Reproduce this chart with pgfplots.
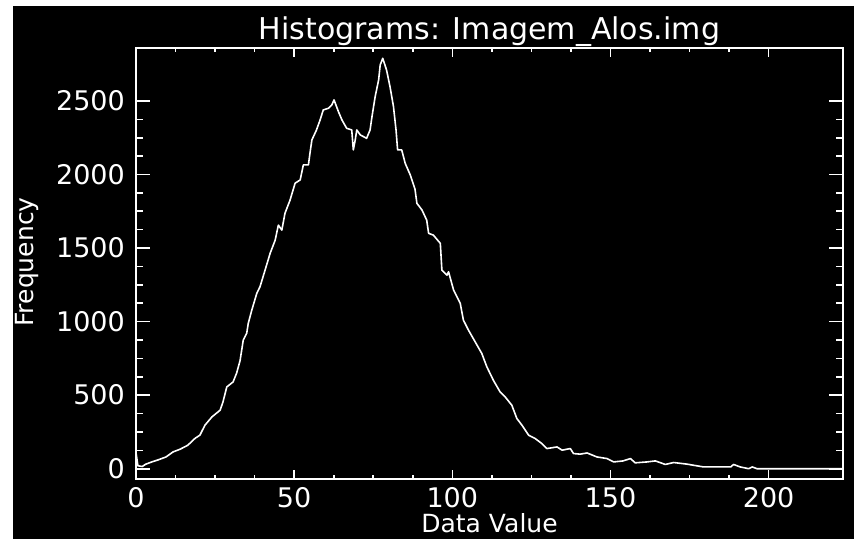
\documentclass[border=0pt]{standalone}
\usepackage{pgfplots}
\pgfplotsset{compat=1.18}
\usepackage{fontspec}
\setmainfont{DejaVu Sans}
\begin{document}
\begin{tikzpicture}[x=1pt,y=1pt]
\useasboundingbox (0,0) rectangle (854,539);
\fill[white] (0,0) rectangle (854,539);
\fill[black] (13,0) rectangle (854,533);
\begin{axis}[
  at={(136pt,60pt)}, anchor=south west,
  scale only axis, width=707pt, height=431pt,
  xmin=0, xmax=223.5, ymin=-70, ymax=2860,
  axis line style={white, line width=1.6pt},
  xtick={0,50,...,200}, ytick={0,500,...,2500},
  minor x tick num=3, minor y tick num=3,
  tick align=inside,
  xtick style={white, line width=1.6pt, /pgfplots/major tick length=8.6pt, /pgfplots/minor tick length=4.3pt},
  ytick style={white, line width=1.6pt, /pgfplots/major tick length=14pt, /pgfplots/minor tick length=7pt},
  ticklabel style={white, font=\fontsize{27}{31}\selectfont, inner sep=0pt},
  yticklabel style={anchor=east, xshift=-11pt},
  xticklabel style={anchor=north, yshift=-8pt},
  /pgf/number format/assume math mode=true,
  scaled y ticks=false,
  y tick label style={/pgf/number format/1000 sep={}},
]
\addplot[white, line width=1.6pt, line join=round] coordinates {
(0,110) (0.6,20) (2,15) (3,30) (5,46) (7,60) (9.5,80) (11.7,114) (14,133)
(16.4,160) (18.7,207) (20.2,228) (21.8,296) (24,352) (26.6,398) (27.5,454)
(28.7,556) (30.7,590) (31.8,649) (32.9,735) (33.9,874) (35,921) (35.5,989)
(36.6,1078) (38.2,1193) (39.2,1237) (40.8,1350) (42.4,1464) (44,1554)
(45,1656) (46.1,1622) (47.1,1737) (48.7,1826) (50.3,1941) (51.9,1963)
(52.9,2065) (54.5,2065) (55,2145) (55.6,2235) (57,2300) (58.2,2371)
(59.2,2439) (60.8,2450) (61.9,2473) (62.6,2507) (64,2427) (65.1,2371)
(66.6,2314) (68.2,2303) (68.7,2167) (69.3,2235) (69.8,2303) (70.9,2269)
(72.9,2246) (74,2303) (74.6,2393) (75.6,2529) (76.7,2643) (77.2,2745)
(78,2790) (79.2,2711) (80.3,2597) (81.4,2461) (82.2,2303) (82.7,2167)
(84,2167) (85.1,2076) (86.7,1997) (88.2,1900) (88.8,1804) (90.4,1759)
(91.9,1690) (92.5,1600) (94,1588) (96.2,1532) (96.7,1350) (98.3,1316)
(98.8,1339) (100.4,1214) (102.5,1124) (103.5,1010) (105.1,942) (107.2,863)
(109.3,784) (110.9,693) (113,600) (115.1,522) (116.7,488) (118.8,432)
(120.4,341) (122,296) (124.1,228) (126.2,205) (128.3,171) (129.9,137)
(133.1,148) (134.7,126) (137.3,137) (138.3,103) (140.4,99) (142.6,107)
(145.7,80) (148.9,69) (151,46) (154,53) (156.3,69) (157.8,40) (161.5,46)
(164.2,53) (167.3,29) (170,42) (174.2,31) (179.4,12) (188,12) (188.9,29)
(191,12) (193.7,0) (194.8,12) (196.3,0) (223.5,0)
};
\end{axis}
% title and axis labels
\node[white, font=\fontsize{30}{36}\selectfont, anchor=base] at (489.5,499) {Histograms: Imagem\_Alos.img};
\node[white, font=\fontsize{25}{29}\selectfont, anchor=base, inner sep=0pt] at (489.5,7) {Data Value};
\node[white, font=\fontsize{25}{29}\selectfont, anchor=base, inner sep=0pt, rotate=90] at (33,277) {Frequency};
\end{tikzpicture}
\end{document}
